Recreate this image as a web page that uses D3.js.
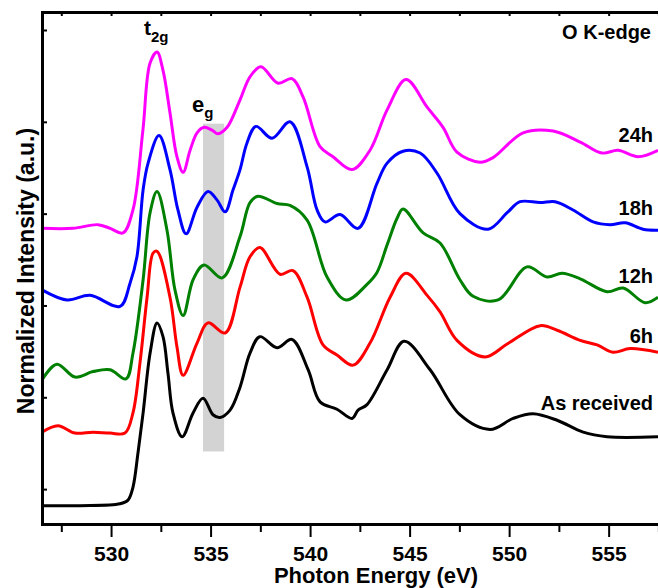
<!DOCTYPE html>
<html>
<head>
<meta charset="utf-8">
<script src="https://cdn.jsdelivr.net/npm/d3@7/dist/d3.min.js"></script>
<style>
body { margin: 0; background: #fff; }
text { font-family: "Liberation Sans", Arial, sans-serif; font-weight: bold; fill: #000; }
</style>
</head>
<body>
<div id="chart"></div>
<script>
// series names, bottom to top
var seriesNames = ["As received", "6h", "12h", "18h", "24h"];

// [photon energy (eV), normalized intensity (a.u., offset)]
var asReceived = [[526.53,-0.18],[528.44,-0.18],[530.45,-0.16],[530.85,-0.12],[531.1,0.02],[531.35,0.39],[531.61,0.83],[531.96,1.48],[532.31,1.81],[532.61,1.66],[532.86,1.26],[533.11,0.83],[533.57,0.57],[534.12,0.83],[534.62,0.99],[535.12,0.81],[535.47,0.78],[535.98,0.86],[536.48,1.11],[536.98,1.48],[537.48,1.66],[538.34,1.54],[539.09,1.63],[539.9,1.30],[540.5,0.95],[541.35,0.87],[542.11,0.77],[542.41,0.86],[542.86,0.92],[543.87,1.30],[544.72,1.61],[546.03,1.30],[547.53,0.81],[549.04,0.65],[550.2,0.77],[551.2,0.82],[552.41,0.75],[553.72,0.62],[554.92,0.57],[557.48,0.57]];
var h6 = [[526.53,0.62],[527.33,0.69],[528.19,0.61],[529.09,0.62],[529.95,0.61],[530.7,0.61],[531.1,0.83],[531.45,1.37],[531.81,2.09],[532.11,2.57],[532.31,2.59],[532.96,2.09],[533.31,1.55],[533.62,1.24],[534.32,1.59],[534.87,1.81],[535.73,1.70],[536.48,2.20],[536.98,2.53],[537.48,2.63],[538.49,2.34],[539.14,2.38],[539.85,2.09],[540.65,1.57],[541.35,1.46],[542.16,1.35],[543.01,1.59],[544.02,2.09],[544.82,2.35],[545.88,2.11],[546.53,1.93],[547.38,1.62],[548.79,1.44],[549.9,1.58],[551.56,1.78],[552.41,1.73],[553.57,1.62],[554.42,1.57],[555.22,1.49],[556.08,1.53],[557.48,1.49]];
var h12 = [[526.53,1.19],[527.28,1.36],[528.19,1.22],[529.09,1.28],[529.95,1.30],[530.75,1.20],[531.1,1.48],[531.61,2.28],[531.96,3.01],[532.31,3.24],[532.81,2.82],[533.21,2.17],[533.62,1.89],[534.12,2.28],[534.67,2.44],[535.58,2.30],[536.48,2.75],[536.98,3.12],[537.38,3.19],[538.34,3.11],[538.99,3.09],[539.85,2.93],[540.85,2.31],[541.81,2.06],[542.86,2.23],[543.36,2.36],[543.87,2.66],[544.37,2.95],[544.67,3.05],[545.68,2.79],[546.53,2.68],[547.53,2.28],[548.19,2.10],[549.45,2.06],[550.9,2.42],[551.91,2.31],[552.66,2.35],[553.57,2.29],[554.92,2.15],[555.73,2.19],[556.83,2.03],[557.48,2.09]];
var h18 = [[526.53,2.17],[527.79,2.06],[528.94,2.11],[530.45,1.99],[530.95,2.24],[531.3,2.53],[531.61,3.26],[531.86,3.55],[532.41,3.85],[532.96,3.48],[533.36,3.04],[533.77,2.78],[534.32,3.07],[534.87,3.24],[535.32,3.15],[535.73,3.02],[536.13,3.26],[536.48,3.48],[536.83,3.77],[537.28,3.95],[538.09,3.82],[538.99,4.00],[539.85,3.51],[540.35,3.04],[540.75,2.91],[541.5,2.99],[542.41,2.84],[543.36,3.33],[543.87,3.55],[544.67,3.68],[545.53,3.66],[546.38,3.44],[547.53,3.00],[548.94,2.83],[549.9,3.01],[550.55,3.13],[551.56,3.12],[552.31,3.13],[553.21,3.04],[554.22,2.91],[555.07,2.88],[555.83,2.90],[556.73,2.83],[557.48,2.82]];
var h24 = [[526.53,2.84],[528.09,2.84],[529.34,2.88],[529.95,2.84],[530.6,2.79],[531.1,3.04],[531.6,3.91],[531.96,4.64],[532.31,4.76],[532.61,4.56],[532.96,4.10],[533.31,3.62],[533.62,3.45],[533.97,3.69],[534.32,3.88],[534.67,3.94],[535.07,3.91],[535.37,3.87],[535.83,3.94],[536.48,4.24],[536.98,4.49],[537.53,4.60],[538.39,4.42],[539.09,4.47],[539.65,4.27],[540.5,3.73],[541.15,3.62],[542.11,3.48],[543.01,3.69],[543.87,4.13],[544.82,4.46],[545.88,4.16],[546.68,3.94],[547.38,3.67],[548.54,3.56],[549.19,3.61],[550.7,3.88],[552.21,3.90],[553.57,3.78],[554.67,3.66],[555.47,3.69],[556.48,3.62],[557.48,3.69]];

var egBandEnergy = [534.62, 535.68];
var egBandIntensity = [0.41, 3.98];

var xTicks = [530, 535, 540, 545, 550, 555];
var xMinorTicks = [527.5, 532.5, 537.5, 542.5, 547.5, 552.5, 557.5];
var xTopTicks = [527.5, 530, 532.5, 535, 537.5, 540, 542.5, 545, 547.5, 550, 552.5, 555, 557.5];
var yTicks = [0, 1, 2, 3, 4, 5];

var seriesData = [asReceived, h6, h12, h18, h24];
var colors = ["#000000", "#ff0000", "#008000", "#0000ff", "#ff00ff"];
var labelAt = [0.86, 1.59, 2.24, 2.985, 3.78]; // label baselines in data units

var width = 658, height = 588;
var plotLeft = 42, plotRight = 658, plotTop = 12, plotBottom = 524;

var svg = d3.select("#chart").append("svg")
    .attr("width", width)
    .attr("height", height);

var x = d3.scaleLinear().domain([526.53, 557.48]).range([plotLeft, plotRight]);
var y = d3.scaleLinear().domain([-0.38, 5.196]).range([plotBottom, plotTop]);

// e_g shading band
svg.append("rect")
    .attr("x", x(egBandEnergy[0]))
    .attr("y", y(egBandIntensity[1]))
    .attr("width", x(egBandEnergy[1]) - x(egBandEnergy[0]))
    .attr("height", y(egBandIntensity[0]) - y(egBandIntensity[1]))
    .attr("fill", "#d3d3d3");

var line = d3.line()
    .x(function(d) { return x(d[0]); })
    .y(function(d) { return y(d[1]); })
    .curve(d3.curveCatmullRom.alpha(0.5));

seriesData.forEach(function(s, i) {
    svg.append("path")
        .datum(s)
        .attr("d", line)
        .attr("fill", "none")
        .attr("stroke", colors[i])
        .attr("stroke-width", 3)
        .attr("stroke-linejoin", "round");
});

// axes
var gx = svg.append("g").attr("transform", "translate(0," + plotBottom + ")")
    .call(d3.axisBottom(x).tickValues(xTicks).tickSize(13).tickSizeOuter(0));
gx.selectAll("text").attr("y", 37).attr("dy", 0).style("font-size", "21px");

var gxm = svg.append("g").attr("transform", "translate(0," + plotBottom + ")")
    .call(d3.axisBottom(x).tickValues(xMinorTicks).tickSize(8).tickFormat(""));
gxm.select(".domain").remove();

var gt = svg.append("g").attr("transform", "translate(0," + plotTop + ")")
    .call(d3.axisBottom(x).tickValues(xTopTicks).tickSize(4).tickSizeOuter(0).tickFormat(""));

var gy = svg.append("g").attr("transform", "translate(" + plotLeft + ",0)")
    .call(d3.axisRight(y).tickValues(yTicks).tickSize(5).tickSizeOuter(0).tickFormat(""));

svg.selectAll(".domain").attr("stroke", "#000").attr("stroke-width", 3).attr("stroke-linecap", "square");
svg.selectAll(".tick line").attr("stroke", "#000").attr("stroke-width", 2);

// titles
svg.append("text")
    .attr("x", 376).attr("y", 583)
    .attr("text-anchor", "middle")
    .style("font-size", "22px")
    .text("Photon Energy (eV)");

svg.append("text")
    .attr("transform", "translate(34,271) rotate(-90)")
    .attr("text-anchor", "middle")
    .style("font-size", "23px")
    .text("Normalized Intensity (a.u.)");

svg.append("text")
    .attr("x", 651).attr("y", 39)
    .attr("text-anchor", "end")
    .style("font-size", "20px")
    .text("O K-edge");

// series labels
seriesNames.forEach(function(n, i) {
    svg.append("text")
        .attr("x", 653)
        .attr("y", y(labelAt[i]))
        .attr("text-anchor", "end")
        .style("font-size", "20px")
        .text(n);
});

// peak labels
var t2g = svg.append("text").attr("x", 144).attr("y", 35).style("font-size", "21px");
t2g.append("tspan").text("t");
t2g.append("tspan").attr("dy", 7).style("font-size", "15px").text("2g");

var eg = svg.append("text").attr("x", 192).attr("y", 112).style("font-size", "22px");
eg.append("tspan").text("e");
eg.append("tspan").attr("dy", 6).style("font-size", "15px").text("g");
</script>
</body>
</html>
